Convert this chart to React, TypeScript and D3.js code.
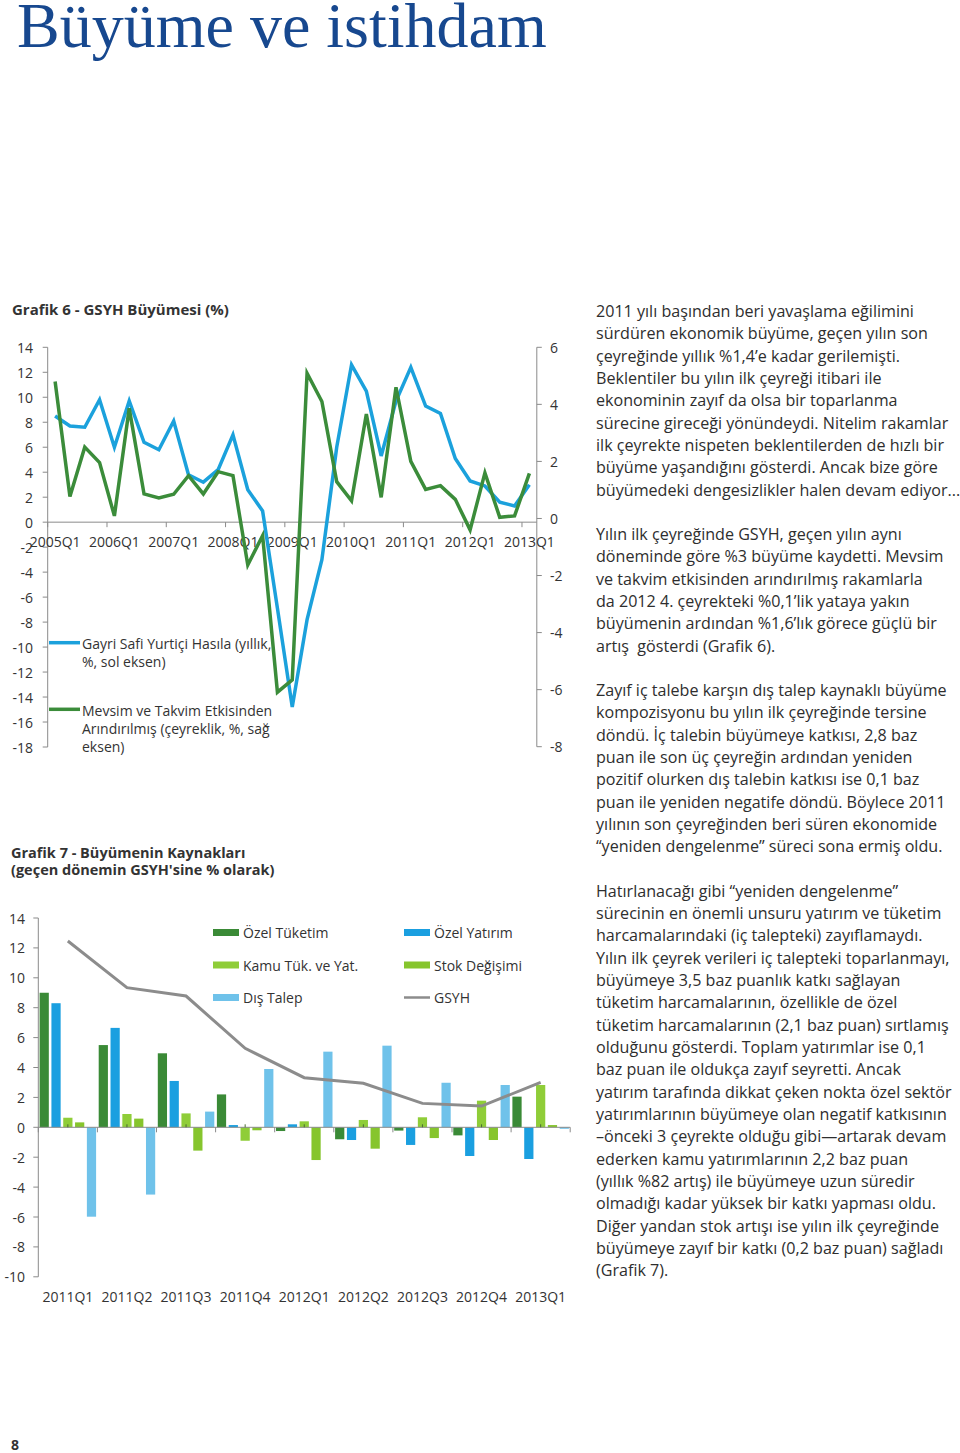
import React from "react";
import * as d3 from "d3";

// ---------- Grafik 6 data ----------
const quarters6 = [
  "2005Q1","2005Q2","2005Q3","2005Q4","2006Q1","2006Q2","2006Q3","2006Q4",
  "2007Q1","2007Q2","2007Q3","2007Q4","2008Q1","2008Q2","2008Q3","2008Q4",
  "2009Q1","2009Q2","2009Q3","2009Q4","2010Q1","2010Q2","2010Q3","2010Q4",
  "2011Q1","2011Q2","2011Q3","2011Q4","2012Q1","2012Q2","2012Q3","2012Q4","2013Q1",
];
const gdpYoY = [
  8.5, 7.7, 7.6, 9.8, 6.0, 9.7, 6.4, 5.8,
  8.1, 3.8, 3.2, 4.2, 7.0, 2.6, 0.9, -6.9,
  -14.8, -7.8, -3.0, 6.0, 12.6, 10.5, 5.3, 9.7,
  12.4, 9.3, 8.7, 5.1, 3.3, 2.9, 1.6, 1.3, 3.0,
];
const gdpQoQ = [
  4.8, 0.77, 2.5, 1.96, 0.09, 3.86, 0.86, 0.72,
  0.85, 1.5, 0.86, 1.64, 1.5, -1.63, -0.6, -6.09,
  -5.66, 5.09, 4.1, 1.29, 0.62, 3.66, 0.74, 4.6,
  2.0, 1.02, 1.15, 0.67, -0.4, 1.6, 0.04, 0.09, 1.58,
];
const leftTicks6 = [-18,-16,-14,-12,-10,-8,-6,-4,-2,0,2,4,6,8,10,12,14];
const rightTicks6 = [-8,-6,-4,-2,0,2,4,6];
const xLabels6 = ["2005Q1","2006Q1","2007Q1","2008Q1","2009Q1","2010Q1","2011Q1","2012Q1","2013Q1"];

// ---------- Grafik 7 data ----------
const quarters7 = ["2011Q1","2011Q2","2011Q3","2011Q4","2012Q1","2012Q2","2012Q3","2012Q4","2013Q1"];
const seriesNames7 = ["Özel Tüketim","Özel Yatırım","Kamu Tük. ve Yat.","Stok Değişimi","Dış Talep"];
const ozelTuketim = [9.0, 5.5, 4.95, 2.2, -0.25, -0.8, -0.22, -0.54, 2.05];
const ozelYatirim = [8.3, 6.65, 3.1, 0.15, 0.2, -0.85, -1.18, -1.92, -2.12];
const kamuTukYat = [0.64, 0.89, 0.93, -0.9, 0.4, 0.49, 0.67, 1.78, 2.83];
const stokDegisimi = [0.33, 0.58, -1.56, -0.2, -2.19, -1.43, -0.72, -0.85, 0.15];
const disTalep = [-5.98, -4.5, 1.05, 3.9, 5.06, 5.46, 2.98, 2.83, -0.1];
const gsyh7 = [12.46, 9.34, 8.78, 5.28, 3.32, 2.94, 1.6, 1.42, 3.0];
const ticks7 = [-10,-8,-6,-4,-2,0,2,4,6,8,10,12,14];

const seriesValues7 = [ozelTuketim, ozelYatirim, kamuTukYat, stokDegisimi, disTalep];
const seriesColors7 = ["#3a8a36", "#1a9fe0", "#8fcd38", "#86c52d", "#6fc2ea"];

// ---------- Text ----------
const para1 = [
  "2011 yılı başından beri yavaşlama eğilimini",
  "sürdüren ekonomik büyüme, geçen yılın son",
  "çeyreğinde yıllık %1,4’e kadar gerilemişti.",
  "Beklentiler bu yılın ilk çeyreği itibari ile",
  "ekonominin zayıf da olsa bir toparlanma",
  "sürecine gireceği yönündeydi. Nitelim rakamlar",
  "ilk çeyrekte nispeten beklentilerden de hızlı bir",
  "büyüme yaşandığını gösterdi. Ancak bize göre",
  "büyümedeki dengesizlikler halen devam ediyor...",
];
const para2 = [
  "Yılın ilk çeyreğinde GSYH, geçen yılın aynı",
  "döneminde göre %3 büyüme kaydetti. Mevsim",
  "ve takvim etkisinden arındırılmış rakamlarla",
  "da 2012 4. çeyrekteki %0,1’lik yataya yakın",
  "büyümenin ardından %1,6’lık görece güçlü bir",
  "artış  gösterdi (Grafik 6).",
];
const para3 = [
  "Zayıf iç talebe karşın dış talep kaynaklı büyüme",
  "kompozisyonu bu yılın ilk çeyreğinde tersine",
  "döndü. İç talebin büyümeye katkısı, 2,8 baz",
  "puan ile son üç çeyreğin ardından yeniden",
  "pozitif olurken dış talebin katkısı ise 0,1 baz",
  "puan ile yeniden negatife döndü. Böylece 2011",
  "yılının son çeyreğinden beri süren ekonomide",
  "“yeniden dengelenme” süreci sona ermiş oldu.",
];
const para4 = [
  "Hatırlanacağı gibi “yeniden dengelenme”",
  "sürecinin en önemli unsuru yatırım ve tüketim",
  "harcamalarındaki (iç talepteki) zayıflamaydı.",
  "Yılın ilk çeyrek verileri iç talepteki toparlanmayı,",
  "büyümeye 3,5 baz puanlık katkı sağlayan",
  "tüketim harcamalarının, özellikle de özel",
  "tüketim harcamalarının (2,1 baz puan) sırtlamış",
  "olduğunu gösterdi. Toplam yatırımlar ise 0,1",
  "baz puan ile oldukça zayıf seyretti. Ancak",
  "yatırım tarafında dikkat çeken nokta özel sektör",
  "yatırımlarının büyümeye olan negatif katkısının",
  "–önceki 3 çeyrekte olduğu gibi—artarak devam",
  "ederken kamu yatırımlarının 2,2 baz puan",
  "(yıllık %82 artış) ile büyümeye uzun süredir",
  "olmadığı kadar yüksek bir katkı yapması oldu.",
  "Diğer yandan stok artışı ise yılın ilk çeyreğinde",
  "büyümeye zayıf bir katkı (0,2 baz puan) sağladı",
  "(Grafik 7).",
];

const FONT = "'Open Sans', 'Noto Sans', sans-serif";
const TXT = "#333333";
const AXIS = "#8a8a8a";

function Chart6() {
  const x = d3.scaleBand<string>().domain(quarters6).range([47.7, 536.8]).padding(0);
  const yL = d3.scaleLinear().domain([-18, 14]).range([747, 347.3]);
  const yR = d3.scaleLinear().domain([-8, 6]).range([746.7, 347.3]);
  const cx = (q: string) => (x(q) as number) + x.bandwidth() / 2;
  const lineL = d3.line<number>().x((_, i) => cx(quarters6[i])).y((d) => yL(d));
  const lineR = d3.line<number>().x((_, i) => cx(quarters6[i])).y((d) => yR(d));
  const y0 = yL(0);
  const x0 = 47.7, x1 = 536.8;
  const tickIdx = quarters6.map((q, i) => i).filter((i) => i % 4 === 0);
  return (
    <g fontFamily={FONT} fontSize={14} fill={TXT}>
      <text x={12} y={315} fontWeight="bold" fontSize={15}>Grafik 6 - GSYH Büyümesi (%)</text>
      {/* left axis */}
      <line x1={x0} x2={x0} y1={yL(14)} y2={yL(-18)} stroke={AXIS} strokeWidth={1} />
      {leftTicks6.map((t) => (
        <g key={"l" + t}>
          <line x1={x0 - 5} x2={x0} y1={yL(t)} y2={yL(t)} stroke={AXIS} />
          <text x={33} y={yL(t)} textAnchor="end" dominantBaseline="central">{t}</text>
        </g>
      ))}
      {/* right axis */}
      <line x1={x1} x2={x1} y1={yR(6)} y2={yR(-8)} stroke={AXIS} strokeWidth={1} />
      {rightTicks6.map((t) => (
        <g key={"r" + t}>
          <line x1={x1} x2={x1 + 5} y1={yR(t)} y2={yR(t)} stroke={AXIS} />
          <text x={550} y={yR(t)} dominantBaseline="central">{t}</text>
        </g>
      ))}
      {/* x axis */}
      <line x1={x0} x2={x1} y1={y0} y2={y0} stroke={AXIS} />
      {tickIdx.map((i) => (
        <line key={"t" + i} x1={x(quarters6[i])} x2={x(quarters6[i])} y1={y0} y2={y0 + 5} stroke={AXIS} />
      ))}
      {xLabels6.map((q) => (
        <text key={q} x={cx(q)} y={547} textAnchor="middle">{q}</text>
      ))}
      {/* lines */}
      <path d={lineL(gdpYoY) as string} fill="none" stroke="#1ba1dc" strokeWidth={3.5} strokeLinejoin="miter" />
      <path d={lineR(gdpQoQ) as string} fill="none" stroke="#3b8c3a" strokeWidth={3.5} strokeLinejoin="miter" />
      {/* legend */}
      <line x1={49} x2={80} y1={642.7} y2={642.7} stroke="#1ba1dc" strokeWidth={3.5} />
      <text x={82} y={643} dominantBaseline="central">Gayri Safi Yurtiçi Hasıla (yıllık,</text>
      <text x={82} y={661.5} dominantBaseline="central">%, sol eksen)</text>
      <line x1={49} x2={80} y1={709.3} y2={709.3} stroke="#3b8c3a" strokeWidth={3.5} />
      <text x={82} y={710} dominantBaseline="central">Mevsim ve Takvim Etkisinden</text>
      <text x={82} y={728.3} dominantBaseline="central">Arındırılmış (çeyreklik, %, sağ</text>
      <text x={82} y={746.7} dominantBaseline="central">eksen)</text>
    </g>
  );
}

function Chart7() {
  const x = d3.scaleBand<string>().domain(quarters7).range([38.3, 570.2]).padding(0);
  const xs = d3.scaleBand<string>().domain(seriesNames7).range([0, x.bandwidth()]).paddingInner(0.22).paddingOuter(0.11);
  const y = d3.scaleLinear().domain([-10, 14]).range([1276.8, 918]);
  const y0 = y(0);
  const cx = (q: string) => (x(q) as number) + x.bandwidth() / 2;
  const line = d3.line<number>().x((_, i) => cx(quarters7[i])).y((d) => y(d));
  const legend = [
    { name: seriesNames7[0], color: seriesColors7[0], lx: 213, ly: 932.5 },
    { name: seriesNames7[2], color: seriesColors7[2], lx: 213, ly: 965 },
    { name: seriesNames7[4], color: seriesColors7[4], lx: 213, ly: 997.5 },
    { name: seriesNames7[1], color: seriesColors7[1], lx: 404, ly: 932.5 },
    { name: seriesNames7[3], color: seriesColors7[3], lx: 404, ly: 965 },
  ];
  return (
    <g fontFamily={FONT} fontSize={14} fill={TXT}>
      <text x={11} y={858} fontWeight="bold" fontSize={14.5}>Grafik 7 - Büyümenin Kaynakları</text>
      <text x={11} y={875} fontWeight="bold" fontSize={14.5}>(geçen dönemin GSYH'sine % olarak)</text>
      {/* legend */}
      {legend.map((l) => (
        <g key={l.name}>
          <rect x={l.lx} y={l.ly - 3.5} width={26} height={7} fill={l.color} />
          <text x={l.lx + 30} y={l.ly} dominantBaseline="central">{l.name}</text>
        </g>
      ))}
      <line x1={404} x2={430} y1={997.5} y2={997.5} stroke="#8c8c8c" strokeWidth={2.5} />
      <text x={434} y={997.5} dominantBaseline="central">GSYH</text>
      {/* axis */}
      <line x1={38.3} x2={38.3} y1={y(14)} y2={y(-10)} stroke={AXIS} />
      {ticks7.map((t) => (
        <g key={"t" + t}>
          <line x1={33.3} x2={38.3} y1={y(t)} y2={y(t)} stroke={AXIS} />
          <text x={25} y={y(t)} textAnchor="end" dominantBaseline="central">{t}</text>
        </g>
      ))}
      {/* bars */}
      {seriesValues7.map((vals, si) =>
        vals.map((v, qi) => {
          const q = quarters7[qi];
          const bx = (x(q) as number) + (xs(seriesNames7[si]) as number);
          return (
            <rect key={si + "-" + qi} x={bx} width={xs.bandwidth()}
              y={Math.min(y(v), y0)} height={Math.abs(y(v) - y0)} fill={seriesColors7[si]} />
          );
        })
      )}
      <line x1={38.3} x2={570.2} y1={y0} y2={y0} stroke={AXIS} />
      {quarters7.concat(["end"]).map((q, i) => {
        const tx = i < quarters7.length ? (x(q) as number) : 570.2;
        return <line key={"xt" + i} x1={tx} x2={tx} y1={y0} y2={y0 + 5} stroke={AXIS} />;
      })}
      {quarters7.map((q) => (
        <line key={"m" + q} x1={cx(q)} x2={cx(q)} y1={y0 - 3} y2={y0} stroke="#4a6a30" strokeWidth={1} />
      ))}
      <path d={line(gsyh7) as string} fill="none" stroke="#8c8c8c" strokeWidth={3} />
      {quarters7.map((q) => (
        <text key={q} x={cx(q)} y={1302} textAnchor="middle">{q}</text>
      ))}
    </g>
  );
}

function Body() {
  const blocks = [
    { lines: para1, y: 311 },
    { lines: para2, y: 534 },
    { lines: para3, y: 690 },
    { lines: para4, y: 890.5 },
  ];
  return (
    <g fontFamily={FONT} fontSize={16.1} fill="#2e2e2e">
      {blocks.map((b, bi) =>
        b.lines.map((l, li) => (
          <text key={bi + "-" + li} x={596} y={b.y + li * 22.35} dominantBaseline="central" style={{ whiteSpace: "pre" }}>{l}</text>
        ))
      )}
    </g>
  );
}

export default function App() {
  return (
    <svg width={960} height={1453} style={{ position: "absolute", left: 0, top: 0, background: "#fff" }}>
      <rect width={960} height={1453} fill="#fff" />
      <text x={17} y={47} fontFamily="'Liberation Serif', 'DejaVu Serif', serif" fontSize={64} fill="#17488f">Büyüme ve istihdam</text>
      <Chart6 />
      <Chart7 />
      <Body />
      <text x={11} y={1450} fontFamily={FONT} fontWeight="bold" fontSize={14} fill={TXT}>8</text>
    </svg>
  );
}
